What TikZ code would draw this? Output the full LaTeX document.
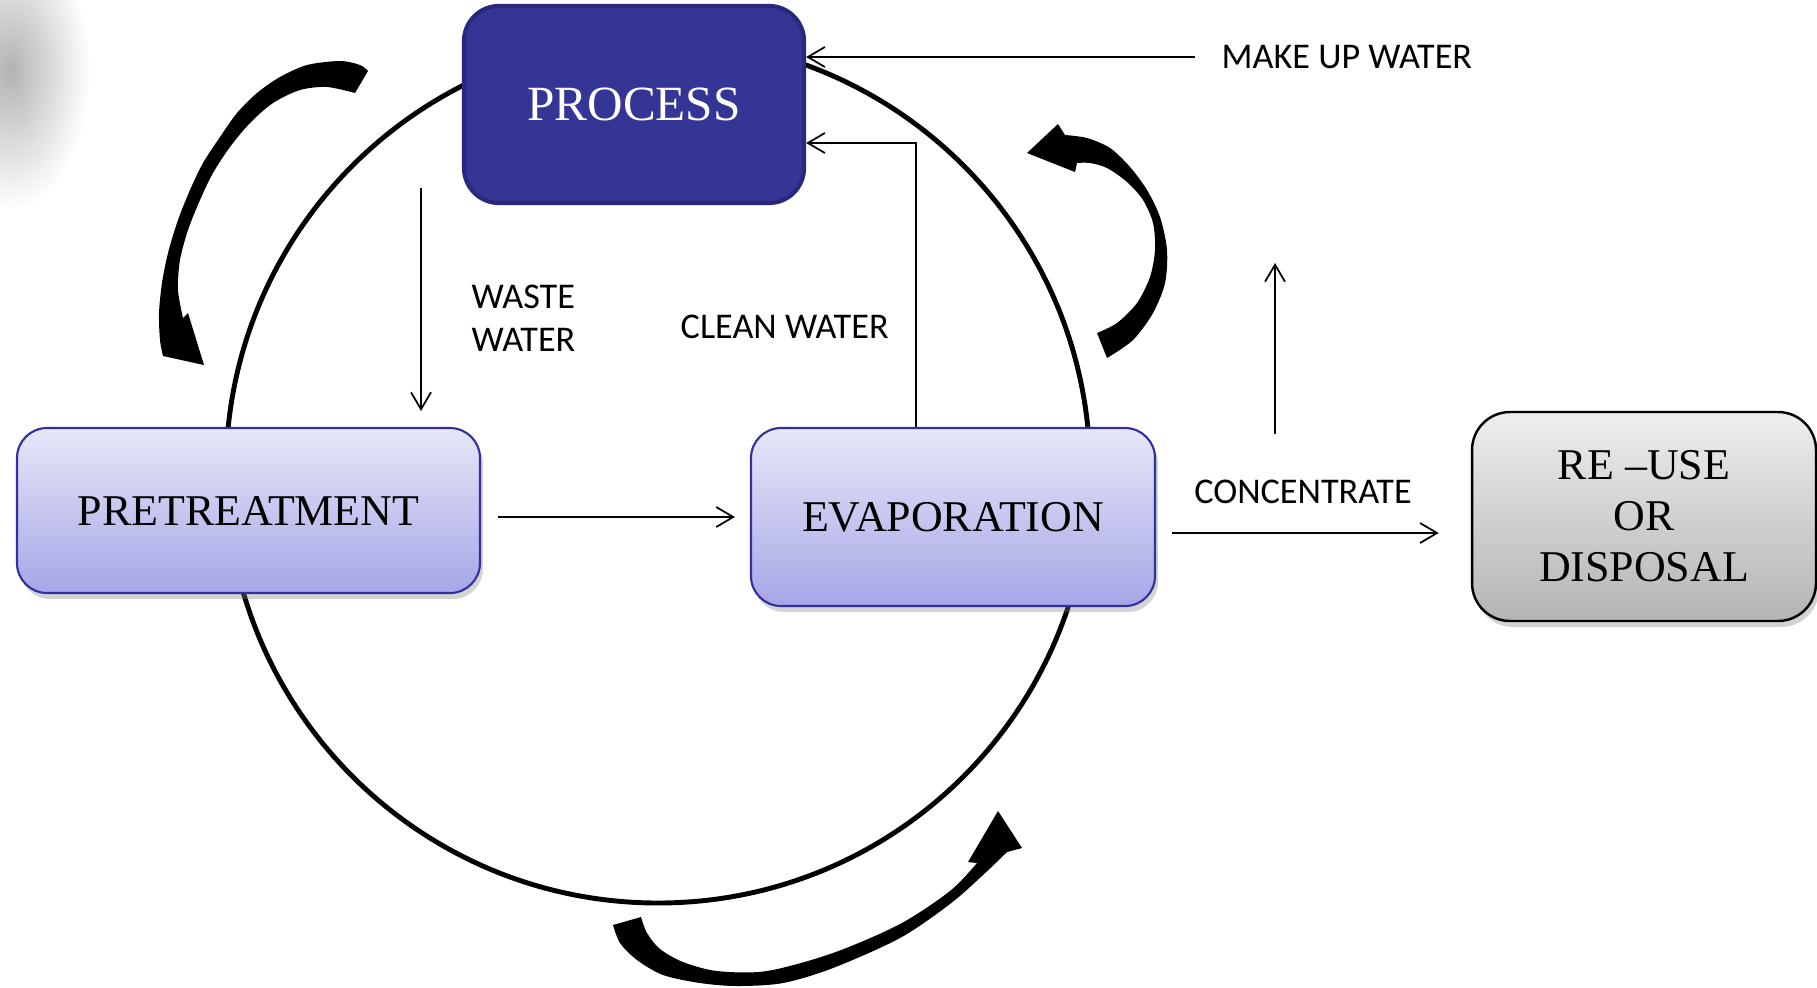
\documentclass[tikz,border=0pt]{standalone}
\usepackage{fontspec}
\setmainfont{Liberation Serif}
\newfontfamily\labelfont{Carlito}
\usetikzlibrary{arrows.meta, shadows}

\definecolor{procfill}{RGB}{53,53,150}
\definecolor{procline}{RGB}{40,40,125}
\definecolor{boxtop}{RGB}{231,231,248}
\definecolor{boxbottom}{RGB}{166,166,232}
\definecolor{boxline}{RGB}{48,48,160}
\definecolor{greytop}{RGB}{238,238,238}
\definecolor{greybottom}{RGB}{180,180,180}

\begin{document}
\begin{tikzpicture}
	\tikzset{box/.style = {shape=rectangle, inner sep=0pt, align=center, font=\fontsize{12.5}{14.5}\selectfont}}
	\tikzset{light/.style = {box, rounded corners=0.3cm, draw=boxline, line width=0.6pt, top color=boxtop, bottom color=boxbottom, drop shadow={opacity=0.35, shadow xshift=0.03cm, shadow yshift=-0.06cm}}}
	\tikzset{flow/.style = {line width=0.5pt, -{Straight Barb[length=0.17cm, width=0.2cm]}}}
	\tikzset{tag/.style = {inner sep=0pt, font=\labelfont\fontsize{10.3}{12.2}\selectfont}}

	\useasboundingbox (0,0) rectangle (18.17,-9.87);
	\shade[inner color=black!30, outer color=white] (0.1,-0.7) ellipse (0.8 and 1.4);

	\draw[line width=1.4pt] (6.58,-4.71) circle (4.32);

	\node[box, rounded corners=0.35cm, fill=procfill, draw=procline, line width=1.2pt, text=white, font=\fontsize{14}{16}\selectfont, minimum width=3.4cm, minimum height=1.97cm] (B_1) at (6.34,-1.045) {PROCESS};
	\node[light, minimum width=4.63cm, minimum height=1.65cm] (B_2) at (2.485,-5.105) {PRETREATMENT};
	\node[light, minimum width=4.04cm, minimum height=1.78cm] (B_3) at (9.53,-5.17) {EVAPORATION};
	\node[box, rounded corners=0.38cm, draw=black, line width=0.7pt, top color=greytop, bottom color=greybottom, drop shadow={opacity=0.35, shadow xshift=0.03cm, shadow yshift=-0.06cm}, minimum width=3.44cm, minimum height=2.09cm] (B_4) at (16.44,-5.165) {RE –USE\\OR\\DISPOSAL};

	\node[tag, anchor=west] (L_1) at (12.21,-0.57) {MAKE UP WATER};
	\node[tag, anchor=west, align=left] (L_2) at (4.71,-3.185) {WASTE\\WATER};
	\node[tag, anchor=west] (L_3) at (6.80,-3.27) {CLEAN WATER};
	\node[tag] (L_4) at (13.03,-4.92) {CONCENTRATE};

	\coordinate (C_1) at (9.16,-1.43);
	\coordinate (W_1) at (4.21,-1.88);
	\coordinate (W_2) at (4.21,-4.11);
	\coordinate (U_1) at (12.75,-4.34);
	\coordinate (U_2) at (12.75,-2.63);

	\draw[flow, shorten <=0.26cm] (L_1.west) -- (B_1.east |- L_1.west);
	\draw[flow] (B_3.north -| C_1) -- (C_1) -- (B_1.east |- C_1);
	\draw[flow] (W_1) -- (W_2);
	\draw[flow, shorten <=0.17cm, shorten >=0.15cm] (B_2.east |- B_3.west) -- (B_3.west);
	\draw[flow, shorten <=0.16cm, shorten >=0.32cm] (B_3.east |- 0,-5.33) -- (B_4.west |- 0,-5.33);
	\draw[flow] (U_1) -- (U_2);

	\fill plot[smooth] coordinates {(3.68,-0.71) (3.60,-0.65) (3.40,-0.61) (3.07,-0.65) (2.80,-0.77) (2.57,-0.93) (2.37,-1.13) (2.20,-1.37) (2.03,-1.63) (1.90,-1.90) (1.78,-2.20) (1.68,-2.53) (1.62,-2.83) (1.59,-3.13) (1.60,-3.40) (1.63,-3.56)}
		-- (2.04,-3.65) -- (1.88,-3.13)
		-- plot[smooth] coordinates {(1.83,-3.18) (1.78,-2.90) (1.80,-2.60) (1.88,-2.30) (2.00,-2.00) (2.13,-1.73) (2.30,-1.47) (2.50,-1.23) (2.73,-1.03) (3.00,-0.90) (3.27,-0.87) (3.55,-0.93)} -- cycle;
	\fill (10.27,-1.53) -- (10.58,-1.24)
		-- plot[smooth] coordinates {(10.65,-1.35) (10.87,-1.38) (11.10,-1.48) (11.30,-1.67) (11.47,-1.90) (11.60,-2.17) (11.67,-2.50) (11.65,-2.83) (11.53,-3.13) (11.33,-3.40) (11.07,-3.58)}
		-- plot[smooth] coordinates {(10.97,-3.33) (11.17,-3.23) (11.37,-3.03) (11.50,-2.77) (11.55,-2.50) (11.53,-2.23) (11.43,-2.00) (11.27,-1.82) (11.07,-1.68) (10.90,-1.63) (10.77,-1.63)}
		-- (10.75,-1.72) -- cycle;
	\fill plot[smooth] coordinates {(6.13,-9.25) (6.20,-9.43) (6.37,-9.60) (6.63,-9.75) (7.00,-9.83) (7.37,-9.86) (7.83,-9.83) (8.33,-9.68) (9.00,-9.38) (9.50,-9.04) (9.83,-8.75) (10.07,-8.52)}
		-- (10.22,-8.48) -- (9.98,-8.11) -- (9.68,-8.62)
		-- plot[smooth] coordinates {(9.77,-8.63) (9.50,-8.91) (9.00,-9.24) (8.33,-9.53) (7.67,-9.71) (7.17,-9.71) (6.83,-9.62) (6.60,-9.49) (6.47,-9.33) (6.41,-9.17)} -- cycle;

\end{tikzpicture}
\end{document}
